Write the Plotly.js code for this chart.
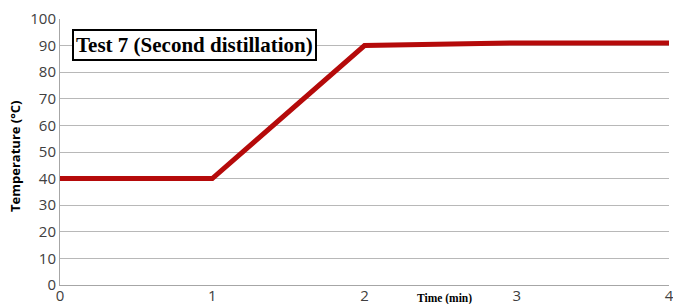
<!DOCTYPE html>
<html><head><meta charset="utf-8">
<script src="https://cdn.plot.ly/plotly-3.0.1.min.js"></script>
<style>body{margin:0;padding:0;background:#fff}#chart{width:673px;height:304px}</style>
</head><body><div id="chart"></div>
<script>
const timeMin = [0, 1, 2, 3, 4];
const temperatureC = [40, 40, 90, 91, 91];
const xTicks = [0, 1, 2, 3, 4];
const yTicks = [0, 10, 20, 30, 40, 50, 60, 70, 80, 90, 100];
const chartTitle = 'Test 7 (Second distillation)';
const xTitle = 'Time (min)';
const yTitle = 'Temperature (°C)';

Plotly.newPlot('chart', [{
  x: timeMin, y: temperatureC, type: 'scatter', mode: 'lines',
  line: {color: '#b50a0a', width: 5}, hoverinfo: 'skip', cliponaxis: false
}], {
  width: 673, height: 304,
  margin: {l: 60, r: 4, t: 19, b: 19},
  paper_bgcolor: '#fff', plot_bgcolor: '#fff',
  showlegend: false,
  xaxis: {
    range: [0, 4], tickvals: xTicks, ticktext: xTicks.map(String),
    showgrid: false, zeroline: false, showline: true, linecolor: '#a6a6a6', linewidth: 1,
    ticks: '', ticklabeloverflow: 'allow', ticklabelstandoff: -3,
    tickfont: {family: 'Open Sans, sans-serif', size: 15, color: '#404040'}
  },
  yaxis: {
    range: [0, 100], tickvals: yTicks, ticktext: yTicks.map(String),
    showgrid: true, gridcolor: '#b8b8b8', gridwidth: 1, zeroline: false,
    showline: true, linecolor: '#a6a6a6', linewidth: 1,
    ticks: '', tickfont: {family: 'Open Sans, sans-serif', size: 15, color: '#404040'}
  },
  annotations: [
    {text: '<b>' + chartTitle + '</b>', xref: 'paper', yref: 'paper', x: 0.0197, y: 0.902,
     xanchor: 'left', yanchor: 'middle', showarrow: false,
     font: {family: 'Liberation Serif, serif', size: 21, color: '#000'},
     bgcolor: '#fff', bordercolor: '#000', borderwidth: 2, borderpad: 2},
    {text: '<b>' + xTitle + '</b>', xref: 'paper', yref: 'paper', x: 0.632, y: -0.018,
     xanchor: 'center', yanchor: 'top', showarrow: false,
     font: {family: 'Liberation Serif, serif', size: 11.5, color: '#000'}},
    {text: '<b>' + yTitle + '</b>', xref: 'paper', yref: 'paper', x: -0.074, y: 0.485,
     xanchor: 'center', yanchor: 'middle', textangle: -90, showarrow: false,
     font: {family: 'Open Sans, sans-serif', size: 13, color: '#000'}}
  ]
}, {displayModeBar: false, staticPlot: true});
</script></body></html>
